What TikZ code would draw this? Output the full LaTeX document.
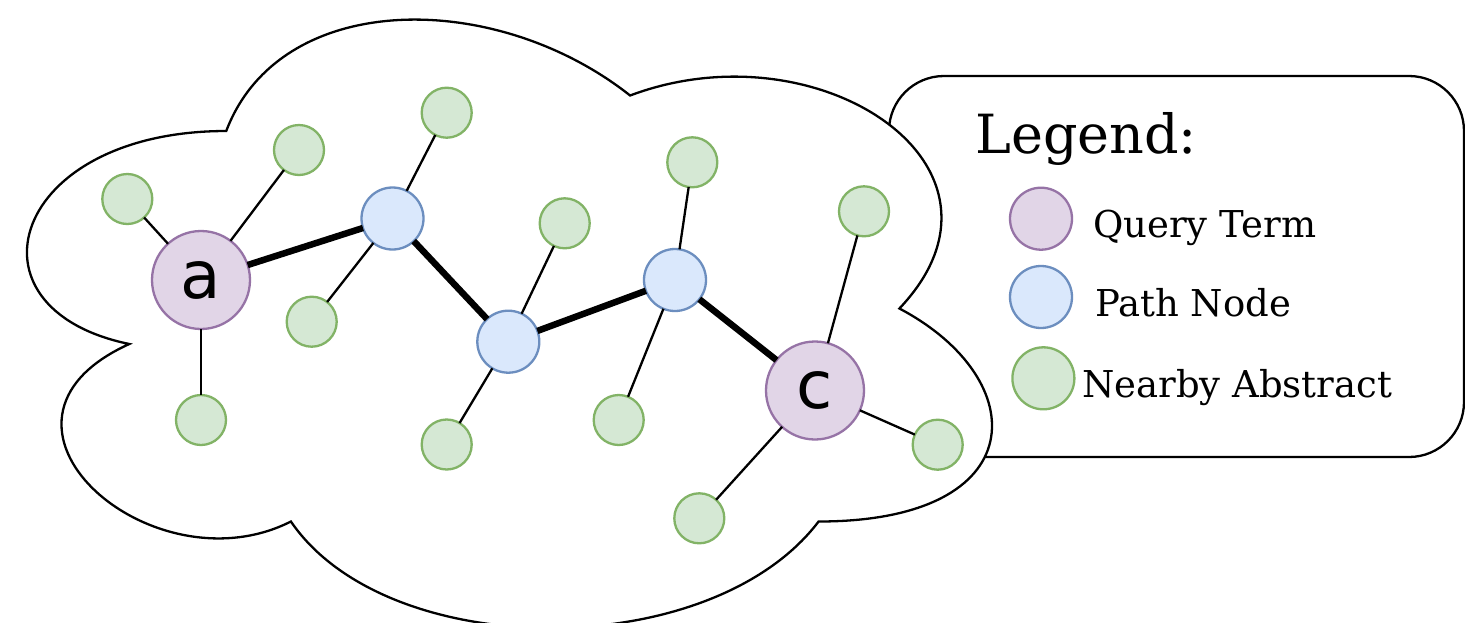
\documentclass[tikz,border=0pt]{standalone}
\usepackage{fontspec}
\newfontfamily\legfont{DejaVu Serif}
\newfontfamily\lblfont{DejaVu Sans}
\definecolor{qfill}{HTML}{E1D5E7}
\definecolor{qdraw}{HTML}{9673A6}
\definecolor{pfill}{HTML}{DAE8FC}
\definecolor{pdraw}{HTML}{6C8EBF}
\definecolor{gfill}{HTML}{D5E8D4}
\definecolor{gdraw}{HTML}{82B366}
\tikzset{
  query/.style={circle, fill=qfill, draw=qdraw, line width=2.3pt, minimum size=98pt, inner sep=0pt, outer sep=0pt, font=\lblfont\fontsize{66}{70}\selectfont},
  pathnode/.style={circle, fill=pfill, draw=pdraw, line width=2.3pt, minimum size=62pt, inner sep=0pt, outer sep=0pt},
  nearby/.style={circle, fill=gfill, draw=gdraw, line width=2.3pt, minimum size=50pt, inner sep=0pt, outer sep=0pt},
  legcircle/.style={circle, line width=2.3pt, minimum size=62pt, inner sep=0pt, outer sep=0pt},
  thin edge/.style={draw=black, line width=2.3pt},
  thick edge/.style={draw=black, line width=6.5pt},
  outline/.style={draw=black, line width=2.3pt, fill=white},
  legtext/.style={anchor=base west, inner sep=0pt, font=\legfont\fontsize{37}{44}\selectfont},
}
\begin{document}
\begin{tikzpicture}[x=1pt, y=-1pt]
\useasboundingbox (0,0) rectangle (1465,622);
% legend box (behind cloud)
\draw[outline, rounded corners=55pt] (889,76) rectangle (1464,457);
% cloud
\draw[outline]
  (226.25,131) .. controls (10.85,131) and (-43,308.5) .. (129.3,344)
  .. controls (-43,422.1) and (150.9,592.5) .. (290.9,521.5)
  .. controls (387.8,663.5) and (710.9,663.5) .. (818.6,521.5)
  .. controls (1034,521.5) and (1034,379.5) .. (899.4,308.5)
  .. controls (1034,166.5) and (818.6,24.5) .. (630.1,95.5)
  .. controls (495.5,-11) and (280.1,-11) .. (226.25,131) -- cycle;
% main nodes
\node[query] (a) at (201,280) {a};
\node[query] (c) at (815,390.5) {c};
\node[pathnode] (b1) at (392.5,218.5) {};
\node[pathnode] (b2) at (508.3,341.7) {};
\node[pathnode] (b3) at (675,280) {};
% nearby nodes
\node[nearby] (g1) at (127.3,199) {};
\node[nearby] (g2) at (299,150) {};
\node[nearby] (g3) at (446.7,112.7) {};
\node[nearby] (g4) at (311.7,321.7) {};
\node[nearby] (g5) at (201,420) {};
\node[nearby] (g6) at (564.7,223.3) {};
\node[nearby] (g7) at (446.7,444.5) {};
\node[nearby] (g8) at (692.3,162.3) {};
\node[nearby] (g9) at (618.7,420) {};
\node[nearby] (g10) at (864,211.3) {};
\node[nearby] (g11) at (937.7,444.7) {};
\node[nearby] (g12) at (699.3,518.3) {};
% thin edges
\draw[thin edge] (a) -- (g1);
\draw[thin edge] (a) -- (g2);
\draw[thin edge] (a) -- (g5);
\draw[thin edge] (b1) -- (g3);
\draw[thin edge] (b1) -- (g4);
\draw[thin edge] (b2) -- (g6);
\draw[thin edge] (b2) -- (g7);
\draw[thin edge] (b3) -- (g8);
\draw[thin edge] (b3) -- (g9);
\draw[thin edge] (c) -- (g10);
\draw[thin edge] (c) -- (g11);
\draw[thin edge] (c) -- (g12);
% thick path edges
\draw[thick edge] (a) -- (b1);
\draw[thick edge] (b1) -- (b2);
\draw[thick edge] (b2) -- (b3);
\draw[thick edge] (b3) -- (c);
% legend
\node[anchor=base west, inner sep=0pt, font=\legfont\fontsize{54}{62}\selectfont] (title) at (975,153) {Legend:};
\node[legcircle, fill=qfill, draw=qdraw] (lq) at (1041,218.7) {};
\node[legcircle, fill=pfill, draw=pdraw] (lp) at (1041,297) {};
\node[legcircle, fill=gfill, draw=gdraw] (lg) at (1043.4,378.3) {};
\node[legtext] (tq) at (1093,237) {Query Term};
\node[legtext] (tp) at (1095,316) {Path Node};
\node[legtext] (tg) at (1082,397) {Nearby Abstract};
\end{tikzpicture}
\end{document}
